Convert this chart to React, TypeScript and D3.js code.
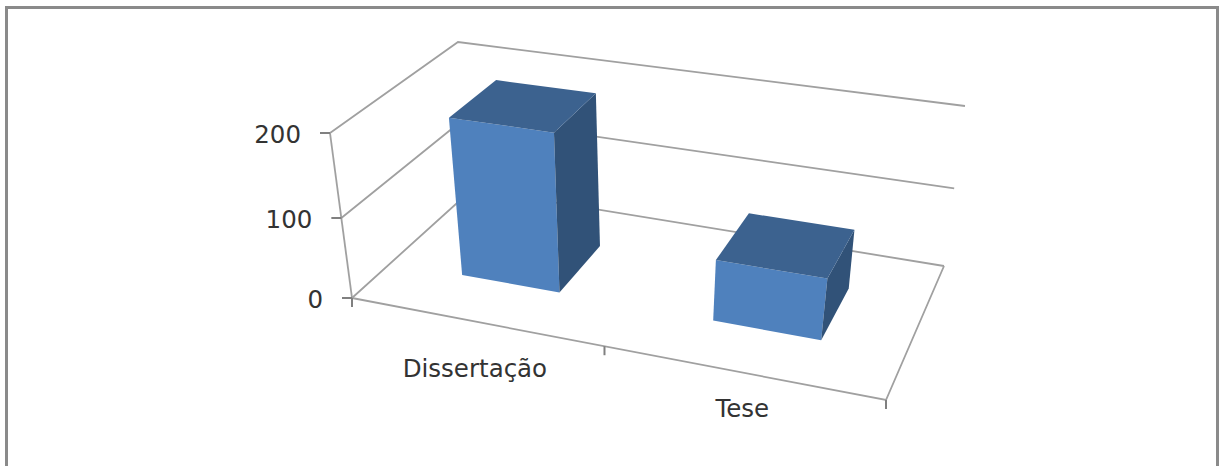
import React from "react";
import * as d3 from "d3";

// Publication counts by document type
const categories = ["Dissertação", "Tese"];
const seriesValues = [195, 74];
const valueTicks = [0, 100, 200];

type Pt = [number, number];

const WIDTH = 1219;
const HEIGHT = 466;

// Corners of the chart box on screen: floor plane and the plane at the top of the value axis
const floor: Pt[] = [[352, 298], [886, 400], [944, 266], [472.5, 189]];
const ceiling: Pt[] = [[330, 133], [913, 220], [965, 106], [458, 42]];

// Homography taking the unit square (u along categories, v into depth) onto a quad
function quadMap([p0, p1, p2, p3]: Pt[]) {
  const dx1 = p1[0] - p2[0], dx2 = p3[0] - p2[0], sx = p0[0] - p1[0] + p2[0] - p3[0];
  const dy1 = p1[1] - p2[1], dy2 = p3[1] - p2[1], sy = p0[1] - p1[1] + p2[1] - p3[1];
  const den = dx1 * dy2 - dx2 * dy1;
  const g = (sx * dy2 - dx2 * sy) / den;
  const h = (dx1 * sy - sx * dy1) / den;
  const a = p1[0] - p0[0] + g * p1[0], b = p3[0] - p0[0] + h * p3[0];
  const d = p1[1] - p0[1] + g * p1[1], e = p3[1] - p0[1] + h * p3[1];
  return (u: number, v: number): Pt => {
    const w = g * u + h * v + 1;
    return [(a * u + b * v + p0[0]) / w, (d * u + e * v + p0[1]) / w];
  };
}

const floorMap = quadMap(floor);
const ceilingMap = quadMap(ceiling);
// Height along the axis is foreshortened slightly towards the top
const valueScale = d3.scaleLinear().domain([0, 100, 200]).range([0, 0.485, 1]);

// Project category position, depth position and value to the screen
function project(u: number, v: number, value: number): Pt {
  const a = floorMap(u, v), b = ceilingMap(u, v), t = valueScale(value);
  return [a[0] + (b[0] - a[0]) * t, a[1] + (b[1] - a[1]) * t];
}

const categoryScale = d3.scaleBand<string>().domain(categories).range([0, 1]).paddingInner(0.6).paddingOuter(0.3);
const depthRange: [number, number] = [0.3, 0.7];

const poly = (pts: Pt[]) => d3.line()(pts) + "Z";
const GRID = "#a0a0a0";
const TICK = "#808080";
const TEXT = "#333333";
const FONT = "'DejaVu Sans', sans-serif";
const FONT_SIZE = 24.5;

export default function App() {
  const [v0, v1] = depthRange;
  return (
    <svg width={WIDTH} height={HEIGHT} style={{ position: "absolute", left: 0, top: 0, background: "#fff" }}>
      {/* outer frame, open at the bottom */}
      <path d={`M6.5 466V7.5H1217.5V466`} fill="none" stroke="#8a8a8a" strokeWidth={3} />

      {/* gridlines across side wall and back wall */}
      {valueTicks.map((t) => (
        <path key={t} d={d3.line()([project(0, 0, t), project(0, 1, t), project(1, 1, t)])!} fill="none" stroke={GRID} strokeWidth={1.8} />
      ))}

      {/* floor outline and value axis */}
      <path d={d3.line()([project(0, 0, 0), project(1, 0, 0), project(1, 1, 0)])!} fill="none" stroke={GRID} strokeWidth={1.8} />
      <path d={d3.line()([project(0, 0, 0), project(0, 0, 200)])!} fill="none" stroke={GRID} strokeWidth={1.8} />

      {/* value ticks and labels */}
      {valueTicks.map((t) => {
        const [x, y] = project(0, 0, t);
        return (
          <g key={t}>
            <line x1={x - 10} x2={x} y1={y} y2={y} stroke={TICK} strokeWidth={2} />
            <text x={x - 29} y={y + 10} textAnchor="end" fontFamily={FONT} fontSize={FONT_SIZE} fill={TEXT}>{t}</text>
          </g>
        );
      })}

      {/* category ticks */}
      {[0, 0.5, 1].map((u) => {
        const [x, y] = project(u, 0, 0);
        return <line key={u} x1={x} x2={x} y1={y} y2={y + 9} stroke={TICK} strokeWidth={2} />;
      })}

      {/* one 3D column per category */}
      {categories.map((c, i) => {
        const u0 = categoryScale(c)!;
        const u1 = u0 + categoryScale.bandwidth();
        const val = seriesValues[i];
        return (
          <g key={c}>
            <path d={poly([project(u0, v0, 0), project(u1, v0, 0), project(u1, v0, val), project(u0, v0, val)])} fill="#4f81bd" />
            <path d={poly([project(u1, v0, 0), project(u1, v1, 0), project(u1, v1, val), project(u1, v0, val)])} fill="#315278" />
            <path d={poly([project(u0, v0, val), project(u1, v0, val), project(u1, v1, val), project(u0, v1, val)])} fill="#3c628f" />
          </g>
        );
      })}

      {/* category labels, stepping down with the floor edge */}
      {categories.map((c, i) => {
        const [x, y] = project((i + 0.5) / categories.length, 0, 0);
        return (
          <text key={c} x={x + i} y={y + (i === 0 ? 56 : 45)} textAnchor="middle" fontFamily={FONT} fontSize={FONT_SIZE} fill={TEXT}>{c}</text>
        );
      })}
    </svg>
  );
}
